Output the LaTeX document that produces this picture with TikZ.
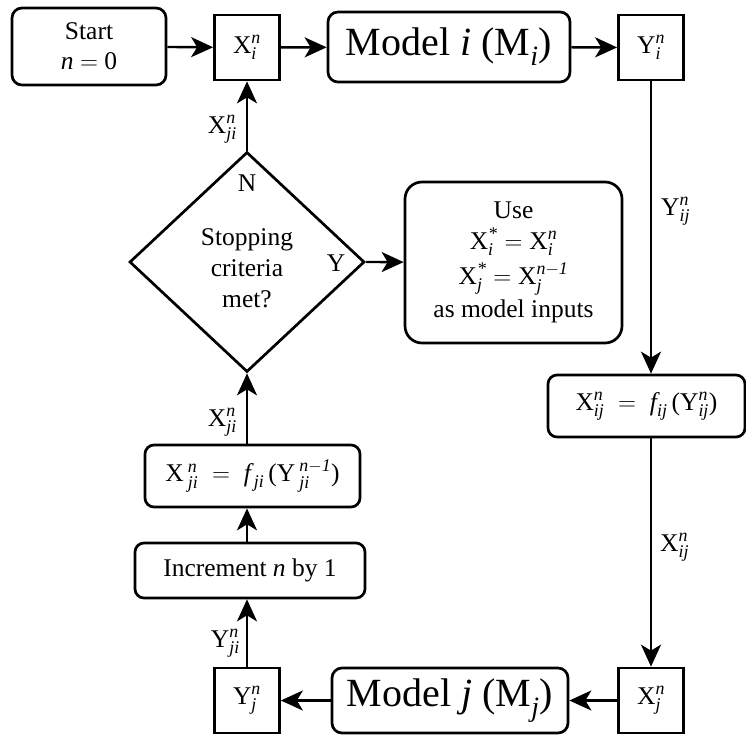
\documentclass[tikz,border=0pt]{standalone}
\usepackage{amsmath}
\usepackage{fontspec}
\setmainfont{Liberation Serif}
\usetikzlibrary{arrows.meta,shapes.geometric}

% variable with stacked sub- and superscript in the text face
\newcommand\vr[3]{\text{#1}^{\text{\itshape #3}}_{\text{\itshape #2}}}

\begin{document}
\begin{tikzpicture}[x=1pt,y=-1pt,
  line width=2.4pt,
  >={Stealth[length=22pt,width=20pt,inset=6pt]},
  every node/.style={font=\fontsize{25.5}{31}\selectfont},
  rbox/.style={draw,line width=2.7pt,rounded corners=10pt,inner sep=0pt,align=center},
  sq/.style={draw,line width=2.7pt,inner sep=0pt,minimum width=65pt,minimum height=65pt},
  big/.style={font=\fontsize{40}{46}\selectfont},
  lab/.style={inner sep=0pt}
]
\useasboundingbox (0,0) rectangle (746,735);

% top row
\node[rbox,minimum width=154pt,minimum height=77pt] (start) at (89,46.5)
  {Start\\[-1pt] {\itshape n} $=$ 0};
\node[sq] (xi) at (247,47.5) {$\vr{X}{i}{n}$};
\node[rbox,big,minimum width=242pt,minimum height=70pt] (mi) at (449,47)
  {Model {\itshape i} (M$_{\text{\itshape i}}$)};
\node[sq] (yi) at (651,47.5) {$\vr{Y}{i}{n}$};

% decision
\node[diamond,draw,line width=2.7pt,minimum width=235pt,minimum height=220pt,inner sep=0pt] (stop) at (247,262) {};
\node[align=center,inner sep=0pt] (stoptxt) at (247,268) {Stopping\\criteria\\met?};
\node[lab] (nlab) at (247,183) {N};
\node[lab] (ylab) at (336,263) {Y};

\node[rbox,rounded corners=17pt,minimum width=217pt,minimum height=161pt,
      font=\fontsize{25.5}{28}\selectfont] (use) at (513.5,262.5)
  {Use\\[3pt] $\vr{X}{i}{*} = \vr{X}{i}{n}$\\[7pt] $\vr{X}{j}{*} = \vr{X}{j}{n$-$1}$\\[4pt] as model inputs};

% right column
\node[rbox,rounded corners=9pt,minimum width=197pt,minimum height=62pt] (fij) at (646.5,406)
  {$\vr{X}{ij}{n} \;=\; \text{\itshape f}_{\text{\itshape ij}}\,\text{(}\vr{Y}{ij}{n}\text{)}$};

% bottom row
\node[sq] (xj) at (651,700.5) {$\vr{X}{j}{n}$};
\node[rbox,big,minimum width=236pt,minimum height=65pt] (mj) at (450,700.5)
  {Model {\itshape j} (M$_{\text{\itshape j}}$)};
\node[sq] (yj) at (247,700.5) {$\vr{Y}{j}{n}$};

% left column
\node[rbox,rounded corners=9pt,minimum width=230pt,minimum height=55pt] (incr) at (250,570.5)
  {Increment {\itshape n} by 1};
\node[rbox,rounded corners=9pt,minimum width=215pt,minimum height=62pt] (fji) at (252.5,476)
  {$\text{X}\,^{\text{\itshape n}}_{\text{\itshape ji}} \;=\; \text{\itshape f}_{\,\text{\itshape ji}}\,\text{(}\text{Y}\,^{\text{\itshape n$-$1}}_{\text{\itshape ji}}\text{)}$};

% connectors
\draw[->] (start) -- (xi);
\draw[->] (xi) -- (mi);
\draw[->] (mi) -- (yi);
\draw[->] (yi) -- (yi |- fij.north);
\draw[->] (fij.south -| xj) -- (xj);
\draw[->] (xj) -- (mj);
\draw[->] (mj) -- (yj);
\draw[->] (yj) -- (yj |- incr.south);
\draw[->] (incr.north -| yj) -- (yj |- fji.south);
\draw[->] (fji.north -| yj) -- (stop.south);
\draw[->] (stop.north) -- (xi);
\draw[->] (stop.east) -- (use);

% connector labels
\node[lab,anchor=east] (l1) at (238,129) {$\vr{X}{ji}{n}$};
\node[lab,anchor=east] (l2) at (238,422) {$\vr{X}{ji}{n}$};
\node[lab,anchor=east] (l3) at (241,643) {$\vr{Y}{ji}{n}$};
\node[lab,anchor=west] (l4) at (660,211) {$\vr{Y}{ij}{n}$};
\node[lab,anchor=west] (l5) at (659,547) {$\vr{X}{ij}{n}$};
\end{tikzpicture}
\end{document}
